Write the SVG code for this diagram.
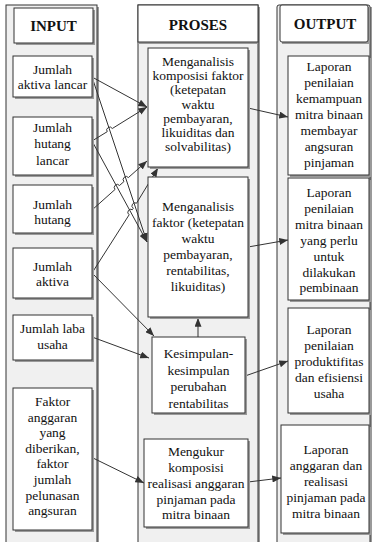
<svg xmlns="http://www.w3.org/2000/svg" width="374" height="542" viewBox="0 0 374 542">
<style>
.panel{fill:#f0f0f0;stroke:#333;stroke-width:1}
.hdr{fill:#fff;stroke:#333;stroke-width:1}
.box{fill:#fff;stroke:#333;stroke-width:1}
.sh{fill:#9a9a9a}
.t{font-family:"Liberation Serif","Times New Roman",serif;font-size:13.5px;fill:#111;text-anchor:middle}
.h{font-family:"Liberation Serif","Times New Roman",serif;font-size:15px;font-weight:bold;fill:#111;text-anchor:middle}
.c{fill:none;stroke:#333;stroke-width:1;marker-end:url(#ah)}
</style>
<defs>
<marker id="ah" viewBox="0 0 10 8" refX="10" refY="4" markerWidth="9" markerHeight="7" orient="auto" markerUnits="userSpaceOnUse"><path d="M0,0 L10,4 L0,8 z" fill="#333"/></marker>
</defs>
<g id="lanes">
<rect class="sh" x="8" y="7" width="91" height="540"/>
<rect class="panel" x="6" y="5" width="91" height="540"/>
<rect class="sh" x="140" y="7" width="120" height="540"/>
<rect class="panel" x="138" y="5" width="120" height="540"/>
<rect class="sh" x="279" y="7" width="93" height="540"/>
<rect class="panel" x="277" y="5" width="93" height="540" rx="2"/>
</g>
<g id="hdr-input"><rect class="sh" x="16" y="10" width="79" height="35"/><rect class="hdr" x="14" y="8" width="79" height="35"/><text class="h" x="53.5" y="31">INPUT</text></g>
<g id="hdr-proses"><rect class="sh" x="138" y="42" width="120" height="2"/><rect class="hdr" x="138" y="5" width="120" height="37"/><text class="h" x="198" y="30">PROSES</text></g>
<g id="hdr-output"><rect class="sh" x="282" y="7" width="88" height="37"/><rect class="hdr" x="280" y="5" width="88" height="37" rx="2"/><text class="h" x="325" y="29">OUTPUT</text></g>
<g id="connectors">
<path class="c" d="M92,77 L147,107"/>
<path class="c" d="M92,141 L107.2,131.7 A3,3 0 0 1 112.3,128.5 L147,107"/>
<path class="c" d="M92,77 L147,242"/>
<path class="c" d="M92,141 L147,242"/>
<path class="c" d="M92,210 L115.06,189.46 A3,3 0 0 1 119.54,185.46 L123.94,181.55 A3,3 0 0 1 128.42,177.55 L147,161"/>
<path class="c" d="M92,273 L129.17,214.75 A3,3 0 0 1 132.39,209.69 L133.3,208.28 A3,3 0 0 1 136.52,203.22 L158,168"/>
<path class="c" d="M92,273 L154,336"/>
<path class="c" d="M92,337 L149,358"/>
<path class="c" d="M93,458 L144,483"/>
<path class="c" d="M198,337 L198,318"/>
<path class="c" d="M248,108 L288,117"/>
<path class="c" d="M248,247 L288,240"/>
<path class="c" d="M245,376 L288,361"/>
<path class="c" d="M248,482 L281,478"/>
</g>
<g id="in1"><rect class="sh" x="15" y="58" width="79" height="41"/><rect class="box" x="13" y="56" width="79" height="41"/><text class="t" x="52.5" y="74">Jumlah</text><text class="t" x="52.5" y="89">aktiva lancar</text></g>
<g id="in2"><rect class="sh" x="15" y="119" width="79" height="58"/><rect class="box" x="13" y="117" width="79" height="58"/><text class="t" x="52.5" y="132">Jumlah</text><text class="t" x="52.5" y="148">hutang</text><text class="t" x="52.5" y="165">lancar</text></g>
<g id="in3"><rect class="sh" x="15" y="187" width="79" height="48"/><rect class="box" x="13" y="185" width="79" height="48"/><text class="t" x="52.5" y="209">Jumlah</text><text class="t" x="52.5" y="224">hutang</text></g>
<g id="in4"><rect class="sh" x="15" y="250" width="79" height="50"/><rect class="box" x="13" y="248" width="79" height="50"/><text class="t" x="52.5" y="271">Jumlah</text><text class="t" x="52.5" y="286">aktiva</text></g>
<g id="in5"><rect class="sh" x="15" y="317" width="79" height="45"/><rect class="box" x="13" y="315" width="79" height="45"/><text class="t" x="52.5" y="333">Jumlah laba</text><text class="t" x="52.5" y="349">usaha</text></g>
<g id="in6"><rect class="sh" x="15" y="390" width="79" height="142"/><rect class="box" x="13" y="388" width="79" height="142"/>
<text class="t" x="52.5" y="406">Faktor</text><text class="t" x="52.5" y="421.6">anggaran</text><text class="t" x="52.5" y="437.2">yang</text><text class="t" x="52.5" y="452.8">diberikan,</text><text class="t" x="52.5" y="468.4">faktor</text><text class="t" x="52.5" y="484">jumlah</text><text class="t" x="52.5" y="499.6">pelunasan</text><text class="t" x="52.5" y="515.2">angsuran</text></g>
<g id="p1"><rect class="sh" x="150" y="50" width="100" height="119"/><rect class="box" x="148" y="48" width="100" height="119"/>
<text class="t" x="198" y="66">Menganalisis</text><text class="t" x="198" y="80.2">komposisi faktor</text><text class="t" x="198" y="94.4">(ketepatan</text><text class="t" x="198" y="108.6">waktu</text><text class="t" x="198" y="122.8">pembayaran,</text><text class="t" x="198" y="137">likuiditas dan</text><text class="t" x="198" y="151.2">solvabilitas)</text></g>
<g id="p2"><rect class="sh" x="150" y="179" width="100" height="140"/><rect class="box" x="148" y="177" width="100" height="140"/>
<text class="t" x="198" y="211">Menganalisis</text><text class="t" x="198" y="227">faktor (ketepatan</text><text class="t" x="198" y="243">waktu</text><text class="t" x="198" y="259">pembayaran,</text><text class="t" x="198" y="275">rentabilitas,</text><text class="t" x="198" y="291">likuiditas)</text></g>
<g id="p3"><rect class="sh" x="154" y="339" width="93" height="76"/><rect class="box" x="152" y="337" width="93" height="76"/>
<text class="t" x="198.5" y="358">Kesimpulan-</text><text class="t" x="198.5" y="374.5">kesimpulan</text><text class="t" x="198.5" y="391">perubahan</text><text class="t" x="198.5" y="407.5">rentabilitas</text></g>
<g id="p4"><rect class="sh" x="146" y="441" width="104" height="88"/><rect class="box" x="144" y="439" width="104" height="88"/>
<text class="t" x="196" y="456">Mengukur</text><text class="t" x="196" y="472">komposisi</text><text class="t" x="196" y="488">realisasi anggaran</text><text class="t" x="196" y="504">pinjaman pada</text><text class="t" x="196" y="519">mitra binaan</text></g>
<g id="o1"><rect class="sh" x="290" y="58" width="81" height="119"/><rect class="box" x="288" y="56" width="81" height="119"/>
<text class="t" x="329" y="71">Laporan</text><text class="t" x="329" y="87">penilaian</text><text class="t" x="329" y="103">kemampuan</text><text class="t" x="329" y="119">mitra binaan</text><text class="t" x="329" y="135">membayar</text><text class="t" x="329" y="151">angsuran</text><text class="t" x="329" y="167">pinjaman</text></g>
<g id="o2"><rect class="sh" x="290" y="180" width="81" height="122"/><rect class="box" x="288" y="178" width="81" height="122"/>
<text class="t" x="329" y="197">Laporan</text><text class="t" x="329" y="213">penilaian</text><text class="t" x="329" y="229">mitra binaan</text><text class="t" x="329" y="245">yang perlu</text><text class="t" x="329" y="261">untuk</text><text class="t" x="329" y="277">dilakukan</text><text class="t" x="329" y="292">pembinaan</text></g>
<g id="o3"><rect class="sh" x="290" y="310" width="81" height="105"/><rect class="box" x="288" y="308" width="81" height="105"/>
<text class="t" x="329" y="334">Laporan</text><text class="t" x="329" y="350">penilaian</text><text class="t" x="329" y="366">produktifitas</text><text class="t" x="329" y="382">dan efisiensi</text><text class="t" x="329" y="398">usaha</text></g>
<g id="o4"><rect class="sh" x="283" y="427" width="88" height="108"/><rect class="box" x="281" y="425" width="88" height="108"/>
<text class="t" x="326" y="454">Laporan</text><text class="t" x="326" y="470">anggaran dan</text><text class="t" x="326" y="486">realisasi</text><text class="t" x="326" y="502">pinjaman pada</text><text class="t" x="326" y="518">mitra binaan</text></g>
</svg>
